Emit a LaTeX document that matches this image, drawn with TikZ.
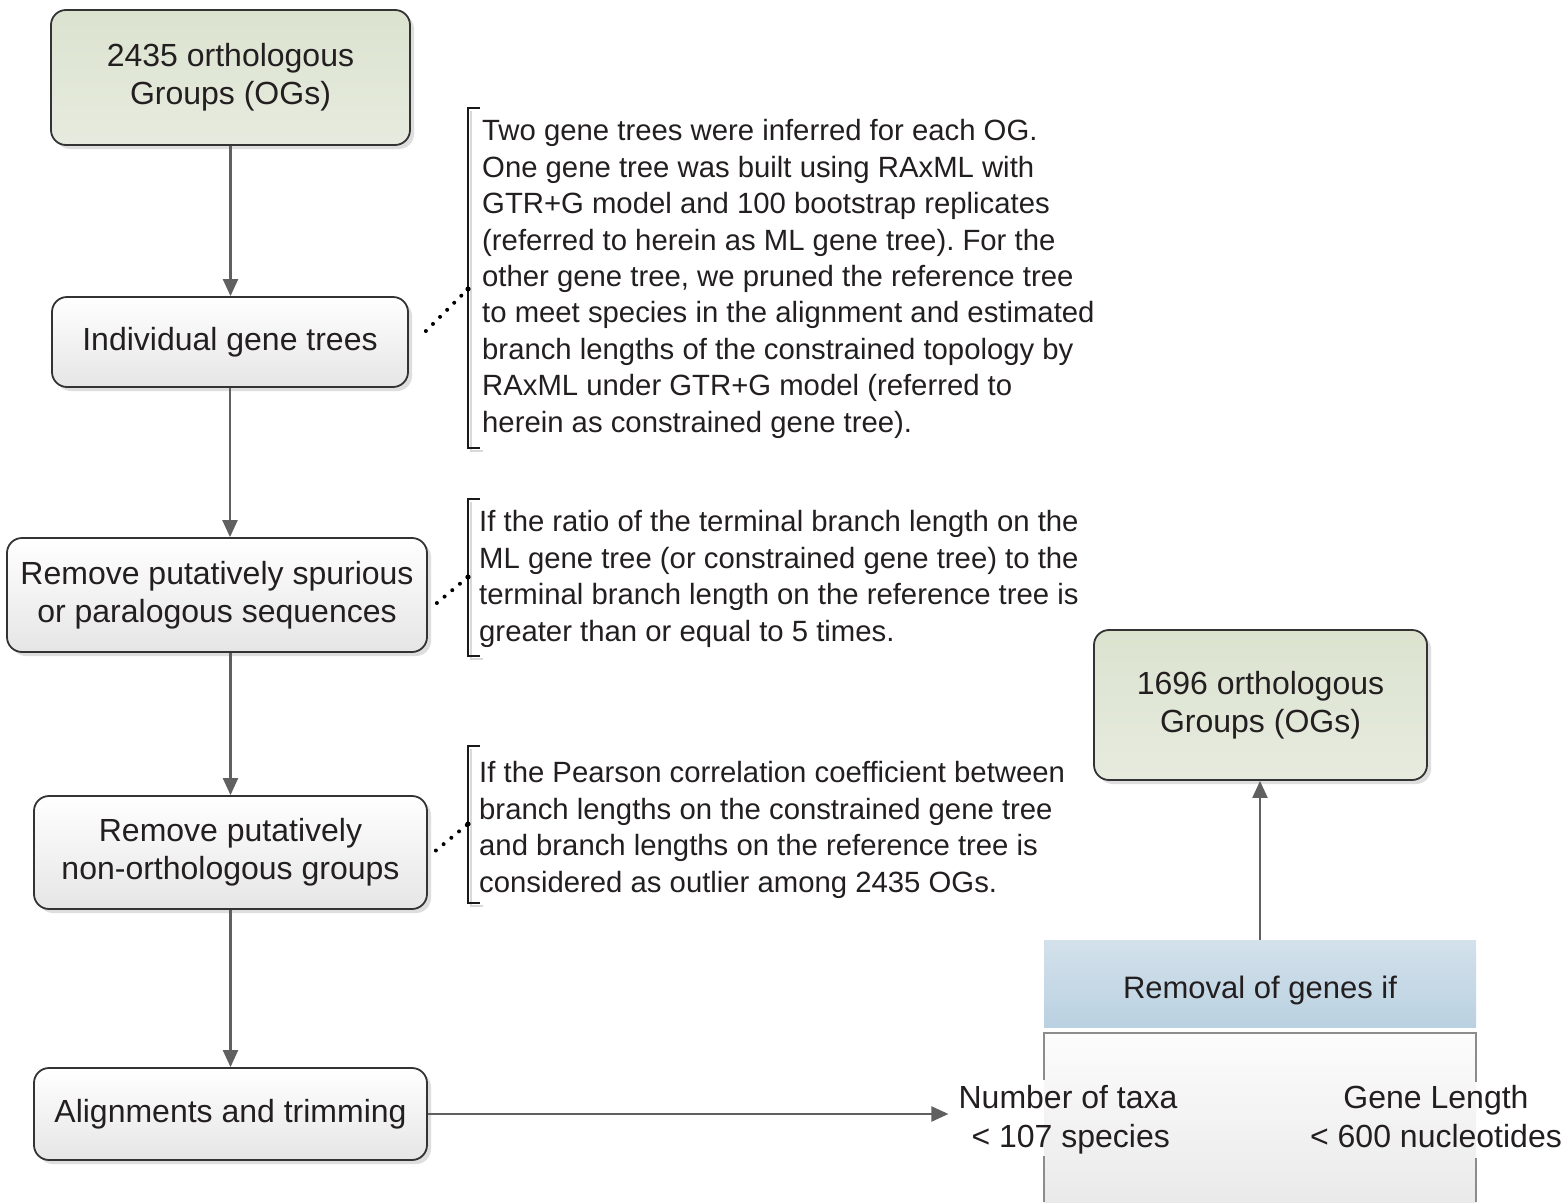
\documentclass[tikz,border=0pt]{standalone}
\usepackage{fontspec}
\setmainfont{Liberation Sans}
\usetikzlibrary{arrows.meta,shadows,calc}
\definecolor{txt}{RGB}{35,31,32}
\definecolor{arr}{RGB}{96,96,96}
\definecolor{bord}{RGB}{51,51,51}
\definecolor{grtop}{RGB}{219,227,207}
\definecolor{grbot}{RGB}{231,235,223}
\definecolor{bltop}{RGB}{211,225,235}
\definecolor{blbot}{RGB}{186,209,225}
\definecolor{bdtop}{RGB}{252,252,252}
\definecolor{bdbot}{RGB}{234,234,234}
\definecolor{bdline}{RGB}{140,140,140}
\tikzset{
 box/.style={draw=bord, line width=1.8pt, rounded corners=15pt, align=center, text=txt,
   font=\fontsize{32}{38}\selectfont, top color=white, bottom color=black!10,
   drop shadow={shadow xshift=4pt, shadow yshift=-4pt, fill=black!25, opacity=0.5}, inner sep=0pt},
 ogbox/.style={box, top color=grtop, bottom color=grbot},
 flow/.style={draw=arr, line width=2.2pt, -{Triangle[length=17pt,width=15pt]}},
 note/.style={align=left, text=txt, font=\fontsize{29.3}{36.4}\selectfont, inner sep=0pt, anchor=west},
 brk/.style={draw=black!90, line width=1.6pt},
 brkshadow/.style={draw=black!15, line width=1.6pt},
 dotline/.style={draw=black, line width=4pt, line cap=round, dash pattern=on 0pt off 10pt},
 ctext/.style={align=center, text=txt, font=\fontsize{32}{39}\selectfont, inner sep=10pt},
}
\begin{document}
\frenchspacing
\begin{tikzpicture}[x=1pt,y=-1pt]
\useasboundingbox[fill=white] (0,0) rectangle (1568,1202);

% main flow boxes
\node[ogbox, minimum width=359pt, minimum height=135pt] (og1) at (230.5,77.5) {2435 orthologous\\Groups (OGs)};
\node[box, minimum width=356pt, minimum height=90pt] (gt) at (230,342) {Individual gene trees};
\node[box, minimum width=420pt, minimum height=114pt] (sp) at (217,595) {Remove putatively spurious\\or paralogous sequences};
\node[box, minimum width=393pt, minimum height=113pt] (no) at (230.5,852.5) {Remove putatively\\non-orthologous groups};
\node[box, minimum width=393pt, minimum height=92pt] (al) at (230.5,1114) {Alignments and trimming};
\node[ogbox, minimum width=333pt, minimum height=150pt] (og2) at (1260.5,705) {1696 orthologous\\Groups (OGs)};

% flow arrows
\draw[flow] (og1.south) -- (og1.south |- gt.north);
\draw[flow] (gt.south) -- (gt.south |- sp.north);
\draw[flow] (no.north |- sp.south) -- (no.north);
\draw[flow] (no.south) -- (al.north);

% notes
\node[note] (t1) at (482,279) {Two gene trees were inferred for each OG.\\
One gene tree was built using RAxML with\\
GTR+G model and 100 bootstrap replicates\\
(referred to herein as ML gene tree). For the\\
other gene tree, we pruned the reference tree\\
to meet species in the alignment and estimated\\
branch lengths of the constrained topology by\\
RAxML under GTR+G model (referred to\\
herein as constrained gene tree).};
\node[note] (t2) at (479,579) {If the ratio of the terminal branch length on the\\
ML gene tree (or constrained gene tree) to the\\
terminal branch length on the reference tree is\\
greater than or equal to 5 times.};
\node[note] (t3) at (479,830) {If the Pearson correlation coefficient between\\
branch lengths on the constrained gene tree\\
and branch lengths on the reference tree is\\
considered as outlier among 2435 OGs.};

% brackets
\coordinate (b1t) at (468,108); \coordinate (b1b) at (468,448); \coordinate (j1) at (468,289);
\coordinate (b2t) at (468,499); \coordinate (b2b) at (468,656); \coordinate (j2) at (468,577);
\coordinate (b3t) at (468,746); \coordinate (b3b) at (468,903); \coordinate (j3) at (468,824);
\foreach \t/\b in {b1t/b1b,b2t/b2b,b3t/b3b}{
  \draw[brkshadow] ([xshift=3pt,yshift=-3pt]\t) -- ([xshift=3pt,yshift=-3pt]\b) -- ([xshift=15pt,yshift=-3pt]\b);
  \draw[brk] ([xshift=12pt]\t) -- (\t) -- (\b) -- ([xshift=12pt]\b);
}
\draw[dotline] ([xshift=17pt,yshift=11pt]gt.east) -- (j1);
\draw[dotline] ([xshift=9pt,yshift=-8pt]sp.east) -- (j2);
\draw[dotline] ([xshift=8pt,yshift=2pt]no.east) -- (j3);
\foreach \j in {j1,j2,j3}{\fill (\j) circle (2.6pt);}

% removal panel
\node[minimum width=432pt, minimum height=87pt, inner sep=0pt, top color=bltop, bottom color=blbot,
  text=txt, font=\fontsize{31}{37}\selectfont, text height=28pt, text depth=0pt] (hdr) at (1260,984) {Removal of genes if};
\shade[top color=bdtop, bottom color=bdbot] (1044,1033) rectangle (1476,1202);
\draw[bdline, line width=1.6pt] (1044,1080) -- (1044,1033) -- (1476,1033) -- (1476,1082);
\draw[bdline, line width=1.6pt] (1044,1156) -- (1044,1202);
\draw[bdline, line width=1.6pt] (1476,1158) -- (1476,1202);
\node[ctext] (taxa) at (1068,1120) {Number of taxa\\\,< 107 species};
\node[ctext] (glen) at (1436,1117) {Gene Length\\< 600 nucleotides};

\draw[flow] (al.east) -- (al.east -| taxa.west);
\draw[flow] (hdr.north) -- (hdr.north |- og2.south);
\end{tikzpicture}
\end{document}
